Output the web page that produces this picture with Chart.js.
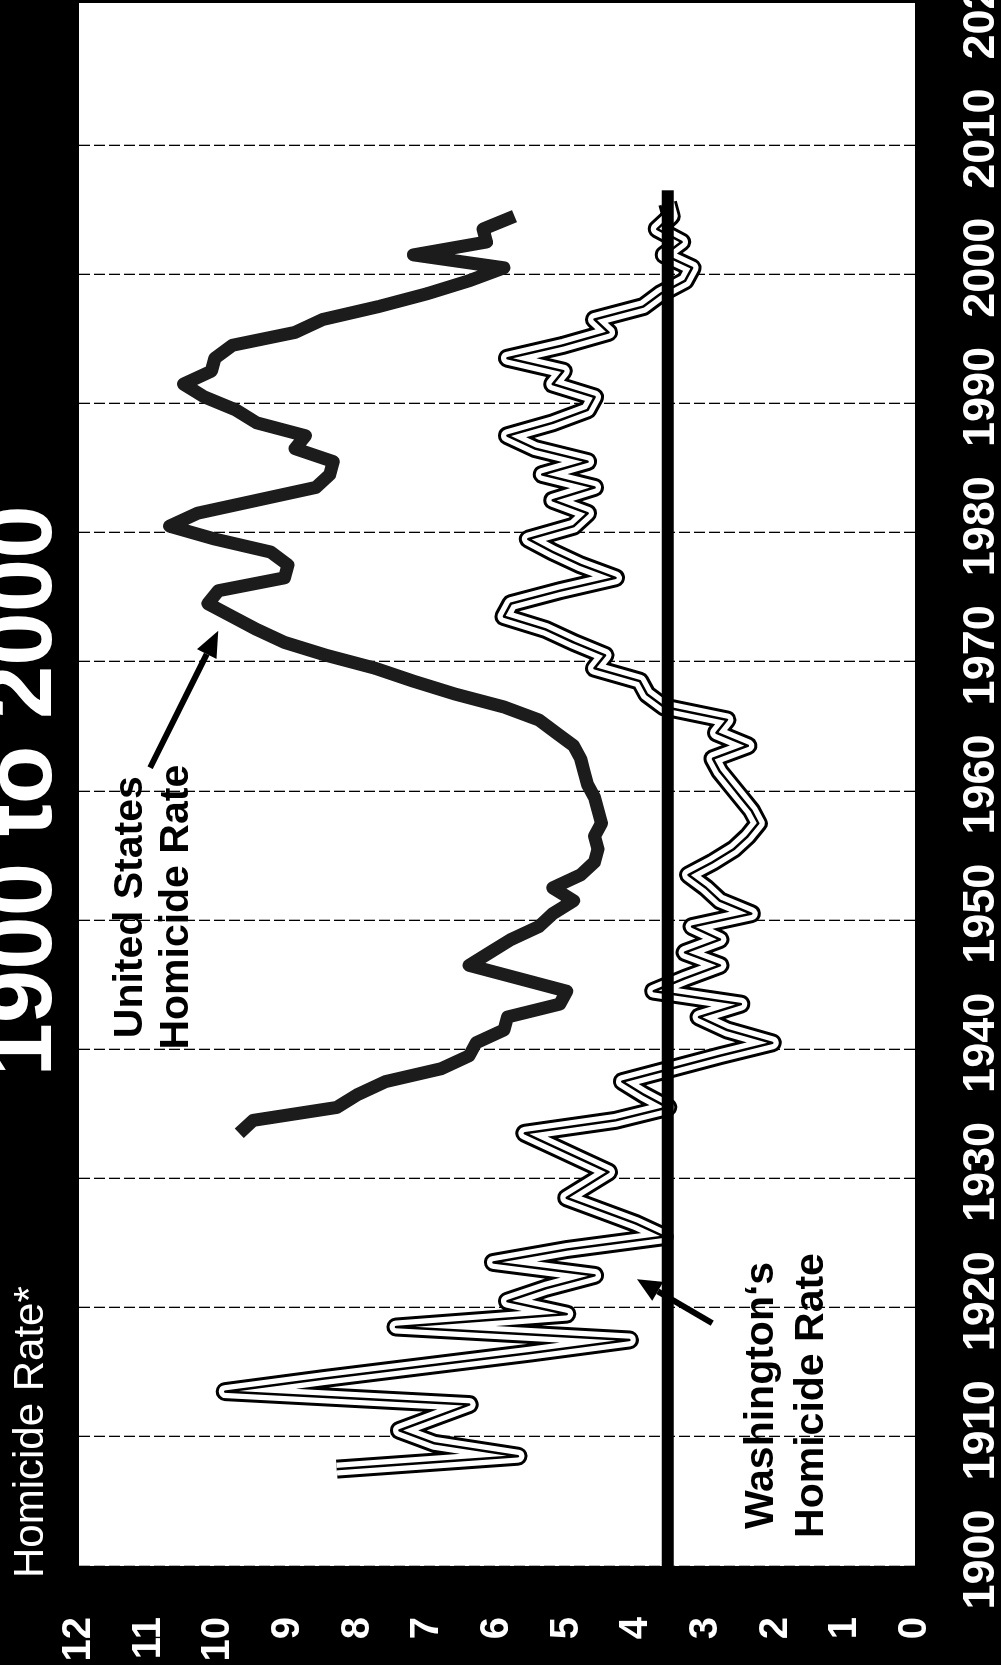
<!DOCTYPE html>
<html>
<head>
<meta charset="utf-8">
<script src="https://cdn.jsdelivr.net/npm/chart.js@4.4.1/dist/chart.umd.min.js"></script>
<style>
  html, body { margin: 0; padding: 0; background: #000; width: 1001px; height: 1665px; overflow: hidden; }
  /* the chart is laid out landscape and turned a quarter turn to stand upright */
  #frame { position: absolute; left: 0; top: 0; width: 1665px; height: 1001px;
           transform-origin: 0 0; transform: translateY(1665px) rotate(-90deg); }
  canvas { display: block; }
</style>
</head>
<body>
<div id="frame"><canvas id="c" width="1665" height="1001"></canvas></div>
<script>
// ---- data -------------------------------------------------------------
const firstYear = 1900;
const lastYear = 2020;
const yearLabels = [];
for (let y = firstYear; y <= lastYear; y++) yearLabels.push(String(y));

// United States homicide rate per 100,000, 1933-2004
const usStartYear = 1933;
const usRates = [
  9.7, 9.5, 8.3, 8.0, 7.6, 6.8, 6.4,                          // 1933-1939
  6.3, 5.9, 5.85, 5.1, 5.0, 5.7, 6.4, 6.1, 5.8, 5.4,          // 1940s
  5.2, 4.9, 5.2, 4.8, 4.6, 4.55, 4.6, 4.5, 4.55, 4.6,         // 1950s
  4.7, 4.75, 4.8, 4.9, 5.15, 5.4, 5.9, 6.6, 7.2, 7.75,        // 1960s
  8.45, 9.05, 9.45, 9.8, 10.15, 10.0, 9.05, 9.0, 9.25, 10.05, // 1970s
  10.7, 10.3, 9.45, 8.6, 8.4, 8.35, 8.9, 8.75, 9.45, 9.75,    // 1980s
  10.2, 10.5, 10.1, 10.05, 9.8, 8.9, 8.5, 7.7, 7.0, 6.4,      // 1990s
  5.9, 7.2, 6.15, 6.2, 5.75                                   // 2000-2004
];

// Washington homicide rate per 100,000, 1907-2005
const waStartYear = 1907;
const waRates = [
  8.3, 5.7, 6.9,                                              // 1907-1909
  7.4, 6.9, 6.4, 9.9, 8.5, 7.0, 5.5, 4.1, 7.45, 5.0,          // 1910s
  5.85, 5.3, 4.6, 6.05, 5.0, 3.6, 4.0, 4.5, 5.0, 4.7,         // 1920s
  4.4, 4.8, 5.2, 5.6, 4.3, 3.55, 3.9, 4.2, 3.5, 2.8,          // 1930s
  2.05, 2.7, 3.1, 2.5, 3.75, 3.3, 2.8, 3.3, 2.8, 3.2,         // 1940s
  2.35, 2.8, 3.0, 3.25, 2.9, 2.6, 2.4, 2.25, 2.35, 2.5,       // 1950s
  2.65, 2.8, 2.9, 2.4, 2.85, 2.7, 3.6, 3.85, 3.95, 4.6,       // 1960s
  4.45, 4.9, 5.3, 5.9, 5.8, 5.1, 4.3, 4.8, 5.2, 5.55,         // 1970s
  4.9, 4.7, 5.2, 4.6, 5.35, 4.7, 5.45, 5.85, 5.2, 4.7,        // 1980s
  4.6, 5.2, 5.05, 5.85, 5.05, 4.4, 4.6, 3.9, 3.65, 3.3,       // 1990s
  3.2, 3.6, 3.35, 3.7, 3.5, 3.55                              // 2000-2005
];

// horizontal benchmark line
const benchmarkRate = 3.55;
const benchmarkEndYear = 2006;

const rateTicks = [0, 1, 2, 3, 4, 5, 6, 7, 8, 9, 10, 11, 12];
const titleText = '1900 to 2000';
const axisTitle = 'Homicide Rate*';
const usNote = ['United States', 'Homicide Rate'];
const waNote = ['Washington\u2018s', 'Homicide Rate'];

// ---- helpers ----------------------------------------------------------
const FONT = '"Liberation Sans", Arial, Helvetica, sans-serif';
function alignToYears(start, values) {
  return yearLabels.map(l => {
    const i = Number(l) - start;
    return (i >= 0 && i < values.length) ? values[i] : null;
  });
}
const usSeries = alignToYears(usStartYear, usRates);
const waSeries = alignToYears(waStartYear, waRates);

// continuous year -> pixel on the category axis (each year fills one slot)
function xAtYear(scale, year) {
  return scale.getPixelForValue(year - firstYear - 0.5);
}

function drawArrow(ctx, x0, y0, x1, y1, width, headLen, headHalf) {
  const a = Math.atan2(y1 - y0, x1 - x0);
  const bx = x1 - headLen * Math.cos(a), by = y1 - headLen * Math.sin(a);
  ctx.save();
  ctx.strokeStyle = '#000';
  ctx.fillStyle = '#000';
  ctx.lineWidth = width;
  ctx.lineCap = 'butt';
  ctx.beginPath(); ctx.moveTo(x0, y0); ctx.lineTo(bx, by); ctx.stroke();
  ctx.beginPath();
  ctx.moveTo(x1, y1);
  ctx.lineTo(bx + headHalf * Math.sin(a), by - headHalf * Math.cos(a));
  ctx.lineTo(bx - headHalf * Math.sin(a), by + headHalf * Math.cos(a));
  ctx.closePath(); ctx.fill();
  ctx.restore();
}

const backdrop = {
  id: 'backdrop',
  beforeDraw(chart) {
    const { ctx, chartArea: a } = chart;
    ctx.save();
    ctx.fillStyle = '#000';
    ctx.fillRect(0, 0, chart.width, chart.height);
    ctx.fillStyle = '#fff';
    ctx.fillRect(a.left, a.top, a.right - a.left, a.bottom - a.top);
    ctx.restore();
  }
};

const overlay = {
  id: 'overlay',
  afterDatasetsDraw(chart) {
    const { ctx, chartArea: a } = chart;
    const xs = chart.scales.x, ys = chart.scales.y;

    // benchmark line
    const yb = ys.getPixelForValue(benchmarkRate);
    ctx.save();
    ctx.strokeStyle = '#000';
    ctx.lineWidth = 12;
    ctx.lineCap = 'butt';
    ctx.beginPath();
    ctx.moveTo(a.left, yb);
    ctx.lineTo(xs.getPixelForValue(benchmarkEndYear - firstYear), yb);
    ctx.stroke();
    ctx.restore();

    // callouts
    ctx.save();
    ctx.fillStyle = '#000';
    ctx.font = 'bold 41px ' + FONT;
    ctx.textAlign = 'center';
    ctx.textBaseline = 'alphabetic';
    const usX = xAtYear(xs, 1951);
    ctx.fillText(usNote[0], usX, ys.getPixelForValue(11.1));
    ctx.fillText(usNote[1], usX, ys.getPixelForValue(10.43));
    const waX = xAtYear(xs, 1913.2);
    ctx.fillText(waNote[0], waX, ys.getPixelForValue(2.04));
    ctx.fillText(waNote[1], waX, ys.getPixelForValue(1.32));
    ctx.restore();

    drawArrow(ctx, xAtYear(xs, 1961.8), ys.getPixelForValue(10.98),
                   xAtYear(xs, 1972.4), ys.getPixelForValue(10.0), 6, 26, 11);
    drawArrow(ctx, xAtYear(xs, 1918.8), ys.getPixelForValue(2.91),
                   xAtYear(xs, 1922.2), ys.getPixelForValue(3.99), 6, 24, 11);
  },
  afterDraw(chart) {
    const { ctx } = chart;
    ctx.save();
    ctx.fillStyle = '#fff';
    ctx.textBaseline = 'alphabetic';
    ctx.font = 'bold 96px ' + FONT;
    ctx.textAlign = 'center';
    ctx.fillText(titleText, 874, 51);
    ctx.font = '42px ' + FONT;
    ctx.textAlign = 'left';
    ctx.fillText(axisTitle, 87, 43);
    ctx.restore();
  }
};

const lineBase = {
  pointRadius: 0,
  pointHoverRadius: 0,
  tension: 0,
  spanGaps: false,
  borderJoinStyle: 'round',
  borderCapStyle: 'butt',
  fill: false
};

new Chart(document.getElementById('c'), {
  type: 'line',
  data: {
    labels: yearLabels,
    datasets: [
      Object.assign({ label: 'Washington core', data: waSeries, borderColor: '#000', borderWidth: 2.5, order: 1 }, lineBase),
      Object.assign({ label: 'Washington fill', data: waSeries, borderColor: '#fff', borderWidth: 13, order: 2 }, lineBase),
      Object.assign({ label: 'Washington edge', data: waSeries, borderColor: '#000', borderWidth: 19, order: 3 }, lineBase),
      Object.assign({ label: 'United States', data: usSeries, borderColor: '#1c1c1c', borderWidth: 13, order: 4 }, lineBase)
    ]
  },
  options: {
    responsive: false,
    animation: false,
    devicePixelRatio: 1,
    events: [],
    layout: { padding: { top: 79, right: 3, left: 0, bottom: 0 } },
    plugins: { legend: { display: false }, tooltip: { enabled: false }, title: { display: false } },
    scales: {
      x: {
        type: 'category',
        offset: true,
        grid: {
          offset: true,
          drawTicks: false,
          lineWidth: 1.3,
          color: ctx => (ctx.index % 10 === 0 && ctx.index < 120) ? '#000' : 'rgba(0,0,0,0)'
        },
        border: { display: false, dash: [11, 4] },
        ticks: {
          autoSkip: false,
          maxRotation: 0,
          minRotation: 0,
          padding: 40,
          color: '#fff',
          font: { family: FONT, size: 45, weight: 'bold' },
          callback: (v, i) => (Number(yearLabels[i]) % 10 === 0 ? yearLabels[i] : '')
        },
        afterFit: s => { s.height = 86; s.paddingLeft = 0; s.paddingRight = 0; }
      },
      y: {
        type: 'linear',
        min: 0,
        max: 12,
        afterBuildTicks: s => { s.ticks = rateTicks.map(v => ({ value: v })); },
        grid: { display: false, drawTicks: false },
        border: { display: false },
        ticks: {
          padding: 51,
          color: '#fff',
          font: { family: FONT, size: 40, weight: 'bold' }
        },
        afterFit: s => { s.width = 99; s.paddingTop = 0; s.paddingBottom = 0; }
      }
    }
  },
  plugins: [backdrop, overlay]
});
</script>
</body>
</html>
